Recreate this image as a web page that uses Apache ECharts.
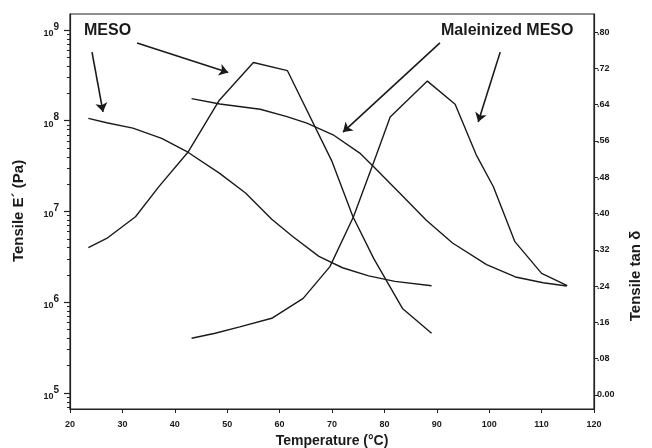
<!DOCTYPE html>
<html>
<head>
<meta charset="utf-8">
<script src="https://cdn.jsdelivr.net/npm/echarts@6/dist/echarts.min.js"></script>
</head>
<body style="margin:0;background:#fff">
<div id="main" style="width:652px;height:448px;"></div>
<script>
// storage modulus E' (Pa) against temperature (°C)
var mesoModTemp = [23.5, 27, 32, 37.5, 42.5, 48.5, 53.5, 58.5, 62.5, 67.5, 72, 77, 82, 89];
var mesoMod = [1.06e8, 9.5e7, 8.3e7, 6.4e7, 4.5e7, 2.65e7, 1.6e7, 8.2e6, 5.3e6, 3.2e6, 2.4e6, 1.95e6, 1.7e6, 1.52e6];
var maleModTemp = [43.2, 48.6, 56.3, 61.4, 65.2, 70.2, 75.3, 78, 83, 88, 93, 99.5, 105, 110.3, 114.8];
var maleMod = [1.75e8, 1.53e8, 1.34e8, 1.11e8, 9.4e7, 7.0e7, 4.4e7, 3.1e7, 1.58e7, 8.0e6, 4.5e6, 2.6e6, 1.9e6, 1.64e6, 1.51e6];

// tan delta against temperature (°C)
var mesoTanTemp = [23.5, 27, 32.5, 37, 42.5, 48.5, 55, 61.5, 70, 74, 78, 83.5, 89];
var mesoTan = [0.325, 0.345, 0.393, 0.46, 0.535, 0.65, 0.733, 0.715, 0.515, 0.393, 0.30, 0.19, 0.136];
var maleTanTemp = [43.2, 47.7, 52.4, 58.5, 64.5, 69.6, 74.1, 78.5, 81.1, 88.2, 93.5, 97.5, 100.8, 104.9, 110, 114.9];
var maleTan = [0.125, 0.136, 0.150, 0.169, 0.213, 0.283, 0.393, 0.53, 0.613, 0.692, 0.641, 0.53, 0.459, 0.338, 0.268, 0.241];

// axis ticks
var modExponents = [5, 6, 7, 8, 9];
var tanTicks = [0, 0.08, 0.16, 0.24, 0.32, 0.40, 0.48, 0.56, 0.64, 0.72, 0.80];

// annotation arrows, [temp, E'] start -> end
var arrowLines = [
    [[24.2, 5.7e8], [26.3, 1.25e8]],
    [[32.8, 7.2e8], [50.2, 3.4e8]],
    [[90.6, 7.2e8], [72.1, 7.5e7]],
    [[102.1, 5.7e8], [97.9, 9.7e7]]
];

var LOG_MIN = 4.824, LOG_MAX = 9.176;

function pairs(xs, ys) {
    return xs.map(function (x, i) { return [x, ys[i]]; });
}

// minor ticks at 2..9 x 10^n
var minorTicks = [];
for (var n = 4; n <= 9; n++) {
    for (var k = 2; k <= 9; k++) {
        var v = Math.log10(k) + n;
        if (v > LOG_MIN && v < LOG_MAX) minorTicks.push(v);
    }
}

var ink = '#1a1a1a';
var tickFont = { color: ink, fontSize: 9, fontWeight: 'bold', fontFamily: 'Liberation Sans' };

var myChart = echarts.init(document.getElementById('main'));

var lineBase = {
    type: 'line',
    showSymbol: false,
    symbol: 'none',
    smooth: false,
    silent: true,
    lineStyle: { color: ink, width: 1.4 }
};

myChart.setOption({
    animation: false,
    backgroundColor: '#fff',
    grid: {
        left: 70, right: 58, top: 14, bottom: 39,
        outerBoundsMode: 'none',
        show: true, borderColor: '#222', borderWidth: 1.2
    },
    xAxis: {
        type: 'value',
        min: 20, max: 120, interval: 10,
        name: 'Temperature (°C)',
        nameLocation: 'middle',
        nameGap: 22,
        nameTextStyle: { color: ink, fontSize: 14, fontFamily: 'Liberation Sans Narrow, Liberation Sans', fontWeight: 'bold' },
        axisLine: { onZero: false, lineStyle: { color: '#222', width: 1.2 } },
        axisTick: { length: 4, lineStyle: { color: '#222' } },
        axisLabel: Object.assign({ margin: 11 }, tickFont),
        splitLine: { show: false }
    },
    yAxis: [
        {
            // data axis for E'
            type: 'log',
            min: Math.pow(10, LOG_MIN), max: Math.pow(10, LOG_MAX),
            position: 'left',
            axisLine: { show: true, onZero: false, lineStyle: { color: '#222', width: 1.2 } },
            axisTick: { show: false },
            axisLabel: { show: false },
            splitLine: { show: false }
        },
        {
            type: 'value',
            min: -0.031, max: 0.84,
            position: 'right',
            axisLine: { show: true, onZero: false, lineStyle: { color: '#222', width: 1.2 } },
            axisTick: { show: true, length: 4, customValues: tanTicks, lineStyle: { color: '#222' } },
            axisLabel: Object.assign({
                margin: 3,
                customValues: tanTicks,
                formatter: function (v) {
                    if (v === 0) return '0.00';
                    var s = String(Math.round(v * 100));
                    return '.' + (s.length < 2 ? '0' + s : s);
                }
            }, tickFont),
            splitLine: { show: false }
        },
        {
            // decades 10^5..10^9 (log10 scale, same extent as the data axis)
            type: 'value',
            min: LOG_MIN, max: LOG_MAX,
            position: 'left',
            axisLine: { show: false, onZero: false },
            axisTick: { show: true, length: 6, customValues: modExponents, lineStyle: { color: '#222', width: 1.2 } },
            axisLabel: {
                margin: 11,
                customValues: modExponents,
                formatter: function (v) { return '{b|10}{s|' + v + '}'; },
                rich: {
                    b: { fontSize: 9, fontWeight: 'bold', color: ink, fontFamily: 'Liberation Sans', lineHeight: 16, verticalAlign: 'bottom' },
                    s: { fontSize: 10, fontWeight: 'bold', color: ink, fontFamily: 'Liberation Sans', lineHeight: 16, verticalAlign: 'top' }
                }
            },
            splitLine: { show: false }
        },
        {
            type: 'value',
            min: LOG_MIN, max: LOG_MAX,
            position: 'left',
            axisLine: { show: false, onZero: false },
            axisTick: { show: true, length: 3, customValues: minorTicks, lineStyle: { color: '#222' } },
            axisLabel: { show: false },
            splitLine: { show: false }
        }
    ],
    graphic: [
        {
            type: 'text', x: 84, y: 31,
            style: { text: 'MESO', fill: ink, font: 'bold 16px "Liberation Sans"', verticalAlign: 'middle' }
        },
        {
            type: 'text', x: 441, y: 31,
            style: { text: 'Maleinized MESO', fill: ink, font: 'bold 16px "Liberation Sans"', verticalAlign: 'middle' }
        },
        {
            type: 'text', x: 19, y: 211, rotation: Math.PI / 2,
            style: { text: "Tensile E\u00b4 (Pa)", fill: ink, font: 'bold 15px "Liberation Sans"', align: 'center', verticalAlign: 'middle' }
        },
        {
            type: 'text', x: 636, y: 276, rotation: Math.PI / 2,
            style: { text: 'Tensile tan \u03b4', fill: ink, font: 'bold 15px "Liberation Sans"', align: 'center', verticalAlign: 'middle' }
        }
    ],
    series: [
        Object.assign({}, lineBase, {
            name: "MESO E'",
            yAxisIndex: 0,
            data: pairs(mesoModTemp, mesoMod),
            markLine: {
                silent: true,
                animation: false,
                symbol: ['none', 'arrow'],
                symbolSize: 9,
                label: { show: false },
                lineStyle: { color: ink, width: 1.6, type: 'solid' },
                data: arrowLines.map(function (a) {
                    return [{ coord: a[0] }, { coord: a[1] }];
                })
            }
        }),
        Object.assign({}, lineBase, { name: "Maleinized MESO E'", yAxisIndex: 0, data: pairs(maleModTemp, maleMod) }),
        Object.assign({}, lineBase, { name: 'MESO tan δ', yAxisIndex: 1, data: pairs(mesoTanTemp, mesoTan) }),
        Object.assign({}, lineBase, { name: 'Maleinized MESO tan δ', yAxisIndex: 1, data: pairs(maleTanTemp, maleTan) })
    ]
});
</script>
</body>
</html>
